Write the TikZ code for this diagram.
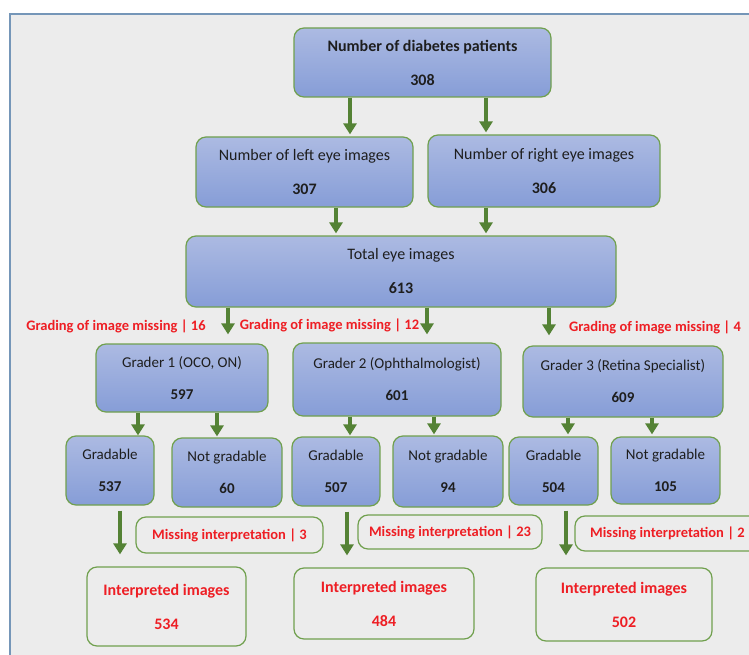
\documentclass[tikz,border=0pt]{standalone}
\usepackage{fontspec}
\setmainfont{Carlito}
\usetikzlibrary{arrows.meta}
\usepackage{xcolor}

\definecolor{bggray}{RGB}{236,236,236}
\definecolor{frameblue}{RGB}{117,150,184}
\definecolor{boxtop}{RGB}{172,186,226}
\definecolor{boxbot}{RGB}{134,157,215}
\definecolor{boxgreen}{RGB}{112,160,78}
\definecolor{arrowgreen}{RGB}{84,130,53}
\definecolor{misred}{RGB}{238,30,36}
\definecolor{textdark}{RGB}{30,30,30}

\begin{document}
\begin{tikzpicture}[x=1pt,y=-1pt,
    box/.style={rounded corners=10pt,draw=boxgreen,line width=1.2pt,top color=boxtop,bottom color=boxbot,
      align=center,text=textdark,inner sep=0pt,font=\fontsize{16}{34}\selectfont},
    sbox/.style={box,font=\fontsize{15}{32}\selectfont},
    redbox/.style={rounded corners=10pt,draw=boxgreen,line width=1.2pt,align=center,inner sep=0pt,
      text=misred,font=\bfseries\fontsize{16}{34}\selectfont},
    misslab/.style={text=misred,inner sep=0pt,font=\bfseries\fontsize{14.5}{17}\selectfont},
    flow/.style={draw=arrowgreen,line width=4pt,-{Triangle[width=13pt,length=11pt]}}]
    \useasboundingbox (0,0) rectangle (749,655);
    \clip (0,0) rectangle (749,655);
    \fill[white] (0,0) rectangle (749,655);
    \draw[fill=bggray,draw=frameblue,line width=1.2pt] (10,14) rectangle (770,680);

    \node[box,minimum width=257pt,minimum height=69pt] (top) at (422.5,62.5) {\textbf{Number of diabetes patients}\\\textbf{308}};
    \node[box,minimum width=217pt,minimum height=70pt] (left) at (304.5,172) {Number of left eye images\\\textbf{307}};
    \node[box,minimum width=232pt,minimum height=72pt] (right) at (544,171) {Number of right eye images\\\textbf{306}};
    \node[box,minimum width=430pt,minimum height=71pt] (total) at (401,271.5) {Total eye images\\\textbf{613}};

    \node[sbox,minimum width=172pt,minimum height=68pt] (gone) at (182,378) {Grader 1 (OCO, ON)\\\textbf{597}};
    \node[sbox,minimum width=208pt,minimum height=73pt] (gtwo) at (397,379.5) {Grader 2 (Ophthalmologist)\\\textbf{601}};
    \node[sbox,minimum width=200pt,minimum height=71pt] (gthree) at (623,381.5) {Grader 3 (Retina Specialist)\\\textbf{609}};

    \node[sbox,minimum width=88pt,minimum height=69pt] (gradone) at (110,470.5) {Gradable\\\textbf{537}};
    \node[sbox,minimum width=110pt,minimum height=69pt] (nogrone) at (227,472.5) {Not gradable\\\textbf{60}};
    \node[sbox,minimum width=88pt,minimum height=69pt] (gradtwo) at (336,471.5) {Gradable\\\textbf{507}};
    \node[sbox,minimum width=110pt,minimum height=71pt] (nogrtwo) at (448,471.5) {Not gradable\\\textbf{94}};
    \node[sbox,minimum width=89pt,minimum height=68pt] (gradthree) at (553.5,471) {Gradable\\\textbf{504}};
    \node[sbox,minimum width=109pt,minimum height=67pt] (nogrthree) at (665.5,470.5) {Not gradable\\\textbf{105}};

    \node[redbox,font=\bfseries\fontsize{14.5}{17}\selectfont,minimum width=187pt,minimum height=36pt] (missone) at (229.5,535) {Missing interpretation | 3};
    \node[redbox,font=\bfseries\fontsize{14.5}{17}\selectfont,minimum width=184pt,minimum height=34pt] (misstwo) at (450,532) {Missing interpretation | 23};
    \node[redbox,font=\bfseries\fontsize{14.5}{17}\selectfont,minimum width=185pt,minimum height=35pt] (missthree) at (667.5,533.5) {Missing interpretation | 2};

    \node[redbox,minimum width=159pt,minimum height=79pt] (intone) at (166.5,606.5) {Interpreted images\\534};
    \node[redbox,minimum width=180pt,minimum height=71pt] (inttwo) at (384,603.5) {Interpreted images\\484};
    \node[redbox,minimum width=176pt,minimum height=73pt] (intthree) at (624,604.5) {Interpreted images\\502};

    \node[misslab] (labone) at (116,326) {Grading of image missing | 16};
    \node[misslab] (labtwo) at (329.5,325) {Grading of image missing | 12};
    \node[misslab] (labthree) at (655,327) {Grading of image missing | 4};

    \foreach \s/\t/\ax/\gap in {top/left/350/2,top/right/486/2,left/total/336/2,right/total/486/2,
        total/gone/228/9,total/gtwo/427/8,total/gthree/549/10,
        gone/gradone/138/0,gone/nogrone/217/1,gtwo/gradtwo/350/1,gtwo/nogrtwo/434/1,
        gthree/gradthree/568/2,gthree/nogrthree/652/2}{
      \coordinate (ax) at (\ax,0);
      \draw[flow,shorten >=\gap pt] (\s.south -| ax) -- (\t.north -| ax);
    }
    \foreach \s/\t/\ax in {gradone/intone/120,gradtwo/inttwo/347,gradthree/intthree/566}{
      \coordinate (ax) at (\ax,0);
      \draw[flow,shorten <=5pt,shorten >=12pt] (\s.south -| ax) -- (\t.north -| ax);
    }
  \end{tikzpicture}
\end{document}
